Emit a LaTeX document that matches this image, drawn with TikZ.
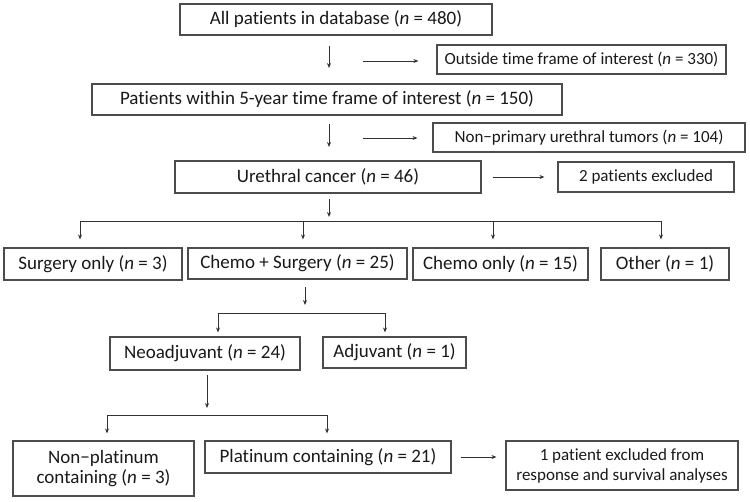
\documentclass[tikz,border=0pt]{standalone}
\usepackage{fontspec}
\setmainfont[Ligatures=CommonOff]{Carlito}
\usetikzlibrary{arrows.meta}

\begin{document}
\begin{tikzpicture}
[x=1pt, y=-1pt, every node/.style={inner sep=0pt, text=black!90},
 >={Stealth[length=5pt, width=4pt]},
 mainbox/.style={rectangle, draw=black!70, line width=1.1pt, align=center, font=\fontsize{19}{20}\selectfont},
 sidebox/.style={rectangle, draw=black!70, line width=1.1pt, align=center, font=\fontsize{17}{20}\selectfont},
 link/.style={line width=0.8pt, color=black!80}]
\useasboundingbox (0,0) rectangle (750,501);
\node (1) [mainbox, minimum width=312pt, minimum height=31pt] at (336, 19.5) {All patients in database (\textit{n} = 480)};
\node (2) [sidebox, minimum width=289pt, minimum height=29pt] at (581.5, 59.5) {Outside time frame of interest (\textit{n} = 330)};
\node (3) [mainbox, minimum width=470pt, minimum height=31pt] at (327, 99.5) {Patients within 5-year time frame of interest (\textit{n} = 150)};
\node (4) [sidebox, minimum width=312pt, minimum height=29pt] at (589, 137.5) {Non−primary urethral tumors (\textit{n} = 104)};
\node (5) [mainbox, minimum width=306pt, minimum height=32pt] at (328, 177) {Urethral cancer (\textit{n} = 46)};
\node (6) [sidebox, minimum width=176pt, minimum height=30pt] at (646, 177) {2 patients excluded};
\node (7) [mainbox, minimum width=178pt, minimum height=32pt] at (93, 264) {Surgery only (\textit{n} = 3)};
\node (8) [mainbox, minimum width=219pt, minimum height=31pt] at (297.5, 263.5) {Chemo + Surgery (\textit{n} = 25)};
\node (9) [mainbox, minimum width=175pt, minimum height=32pt] at (500.5, 264) {Chemo only (\textit{n} = 15)};
\node (10) [mainbox, minimum width=128pt, minimum height=32pt] at (665, 264) {Other (\textit{n} = 1)};
\node (11) [mainbox, minimum width=190pt, minimum height=33pt] at (205, 353.5) {Neoadjuvant (\textit{n} = 24)};
\node (12) [mainbox, minimum width=143pt, minimum height=31pt] at (394.5, 352.5) {Adjuvant (\textit{n} = 1)};
\node (13) [mainbox, minimum width=181pt, minimum height=55pt] at (103.5, 468.5) {Non−platinum\\containing (\textit{n} = 3)};
\node (14) [mainbox, minimum width=246pt, minimum height=32pt] at (328, 457) {Platinum containing (\textit{n} = 21)};
\node (15) [sidebox, minimum width=232pt, minimum height=49pt] at (622, 465.5) {1 patient excluded from\\response and survival analyses};
% free arrow ends and branch points
\coordinate (a1) at (329, 46);
\coordinate (a2) at (329, 68);
\coordinate (a3) at (329, 124);
\coordinate (a4) at (329, 147);
\coordinate (a5) at (329, 199);
\coordinate (a6) at (329, 217);
\coordinate (a7) at (305, 287);
\coordinate (a8) at (305, 305);
\coordinate (a9) at (207, 375);
\coordinate (a10) at (207, 408);
\coordinate (b1) at (363, 61);
\coordinate (b2) at (363, 138);
\coordinate (c1) at (80, 221);
\coordinate (c2) at (303, 221);
\coordinate (c3) at (493, 221);
\coordinate (c4) at (661, 221);
\coordinate (c5) at (218, 313);
\coordinate (c6) at (385, 313);
\coordinate (c7) at (107, 415);
\coordinate (c8) at (327, 415);
\draw [link, ->] (a1) to (a2);
\draw [link, ->, shorten >=18pt] (b1) to (b1 -| 2.west);
\draw [link, ->] (a3) to (a4);
\draw [link, ->, shorten >=15pt] (b2) to (b2 -| 4.west);
\draw [link, ->, shorten <=11pt, shorten >=13pt] (5.east) to (6.west);
\draw [link, ->] (a5) to (a6);
\draw [link] (c1) to (c4);
\draw [link, ->, shorten >=8pt] (c1) to (c1 |- 7.north);
\draw [link, ->, shorten >=8pt] (c2) to (c2 |- 8.north);
\draw [link, ->, shorten >=8pt] (c3) to (c3 |- 9.north);
\draw [link, ->, shorten >=8pt] (c4) to (c4 |- 10.north);
\draw [link, ->] (a7) to (a8);
\draw [link] (c5) to (c6);
\draw [link, ->, shorten >=4pt] (c5) to (c5 |- 11.north);
\draw [link, ->, shorten >=4pt] (c6) to (c6 |- 12.north);
\draw [link, ->] (a9) to (a10);
\draw [link] (c7) to (c8);
\draw [link, ->, shorten >=7pt] (c7) to (c7 |- 13.north);
\draw [link, ->, shorten >=7pt] (c8) to (c8 |- 14.north);
\draw [link, ->, shorten <=9pt, shorten >=9pt] (14.east) to (14.east -| 15.west);

\end{tikzpicture}
\end{document}
